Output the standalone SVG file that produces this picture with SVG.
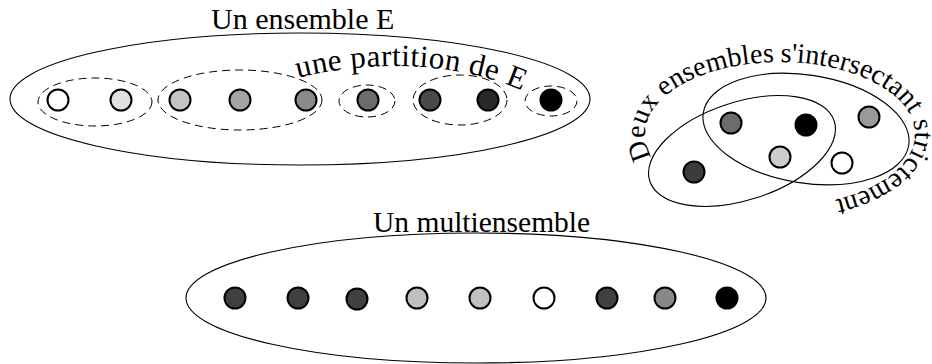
<svg xmlns="http://www.w3.org/2000/svg" width="932" height="364" viewBox="0 0 932 364">
<style>
.set{fill:none;stroke:#000;stroke-width:1.1}
.part{fill:none;stroke:#000;stroke-width:1;stroke-dasharray:8 5}
.el{stroke:#000;stroke-width:2}
.lbl{font-family:"Liberation Serif","Times New Roman",serif;fill:#000}
</style>
<defs>
<path id="arcPart" d="M 298 78 C 360 62, 450 58, 525 92"/>
<path id="arcInter" d="M 663.1 170 A 135 72 0 0 1 780 62 A 135 72 0 0 1 915 134 A 135 72 0 0 1 780 206 A 135 72 0 0 1 663.1 170"/>
</defs>
<g id="ensembleE">
<ellipse class="set" cx="300" cy="99" rx="290" ry="66"/>
<text class="lbl" x="211" y="29" font-size="30">Un ensemble E</text>
</g>
<g id="partition">
<ellipse class="part" cx="95" cy="102" rx="57" ry="24"/>
<ellipse class="part" cx="240" cy="100" rx="82" ry="30"/>
<ellipse class="part" cx="367" cy="101" rx="28" ry="16"/>
<ellipse class="part" cx="460" cy="100" rx="47" ry="25"/>
<ellipse class="part" cx="551" cy="101" rx="26" ry="15"/>
<text class="lbl" font-size="31" letter-spacing="0.4"><textPath href="#arcPart">une partition de E</textPath></text>
</g>
<g id="elementsE">
<circle class="el" cx="58" cy="100" r="10.5" fill="#ffffff"/>
<circle class="el" cx="121" cy="100" r="10.5" fill="#e0e0e0"/>
<circle class="el" cx="180" cy="100" r="10.5" fill="#c4c4c4"/>
<circle class="el" cx="240" cy="100" r="10.5" fill="#a4a4a4"/>
<circle class="el" cx="306" cy="100" r="10.5" fill="#8a8a8a"/>
<circle class="el" cx="368" cy="100" r="10.5" fill="#6c6c6c"/>
<circle class="el" cx="430" cy="100" r="10.5" fill="#4a4a4a"/>
<circle class="el" cx="488" cy="100" r="10.5" fill="#282828"/>
<circle class="el" cx="551" cy="100" r="10.5" fill="#000000"/>
</g>
<g id="intersection">
<ellipse class="set" cx="742" cy="151" rx="97" ry="49" transform="rotate(-18 742 151)"/>
<ellipse class="set" cx="806" cy="129" rx="104" ry="54" transform="rotate(9 806 129)"/>
<circle class="el" cx="731" cy="123" r="10.5" fill="#6c6c6c"/>
<circle class="el" cx="806" cy="125" r="10.5" fill="#000000"/>
<circle class="el" cx="869" cy="117" r="10.5" fill="#9a9a9a"/>
<circle class="el" cx="780" cy="157" r="10.5" fill="#cccccc"/>
<circle class="el" cx="842" cy="163" r="10.5" fill="#ffffff"/>
<circle class="el" cx="694" cy="172" r="10.5" fill="#3c3c3c"/>
<text class="lbl" font-size="28"><textPath href="#arcInter" startOffset="17">Deux ensembles s'intersectant strictement</textPath></text>
</g>
<g id="multiensemble">
<ellipse class="set" cx="476" cy="298" rx="290" ry="65"/>
<text class="lbl" x="373" y="232" font-size="29.5">Un multiensemble</text>
<circle class="el" cx="235" cy="298" r="10.5" fill="#404040"/>
<circle class="el" cx="298" cy="298" r="10.5" fill="#404040"/>
<circle class="el" cx="357" cy="299" r="10.5" fill="#404040"/>
<circle class="el" cx="417" cy="298" r="10.5" fill="#c0c0c0"/>
<circle class="el" cx="480" cy="298" r="10.5" fill="#c0c0c0"/>
<circle class="el" cx="544" cy="298" r="10.5" fill="#ffffff"/>
<circle class="el" cx="607" cy="298" r="10.5" fill="#404040"/>
<circle class="el" cx="665" cy="298" r="10.5" fill="#888888"/>
<circle class="el" cx="727" cy="298" r="10.5" fill="#000000"/>
</g>
</svg>
